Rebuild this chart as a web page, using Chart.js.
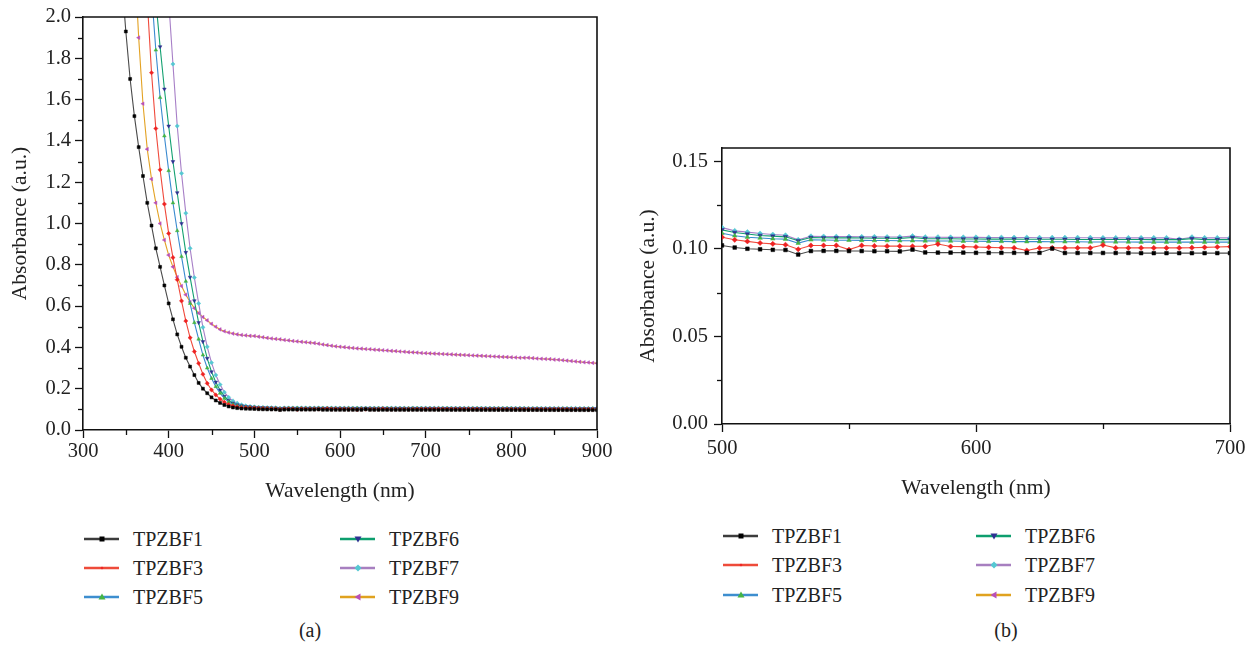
<!DOCTYPE html>
<html>
<head>
<meta charset="utf-8">
<title>Absorbance spectra</title>
<script src="https://cdn.jsdelivr.net/npm/chart.js@4.4.0/dist/chart.umd.min.js"></script>
<style>
  body { margin: 0; background: #fff; width: 1255px; height: 647px; overflow: hidden; position: relative;
         font-family: 'Liberation Serif', 'Times New Roman', serif; color: #222; }
  canvas { position: absolute; top: 0; }
  #chartA { left: 0; }
  #chartB { left: 630px; }
  .item { position: absolute; height: 24px; display: flex; align-items: center; white-space: nowrap; font-size: 20px; }
  .item svg { margin-right: 13px; flex: none; }
  .panel { position: absolute; top: 619px; font-size: 20px; transform: translateX(-50%); }
</style>
</head>
<body>
<canvas id="chartA" width="620" height="510"></canvas>
<canvas id="chartB" width="620" height="510"></canvas>
<div id="legendA"></div>
<div id="legendB"></div>
<div class="panel" style="left:310px">(a)</div>
<div class="panel" style="left:1006px">(b)</div>
<script>
// Wavelength grid (nm)
const waveEdge = [345, 350, 355, 360, 365, 370, 375, 380, 385, 390, 395, 400, 405, 410, 415, 420,
                  425, 430, 435, 440, 445, 450, 455, 460, 465, 470, 475, 480, 485, 490, 495];
const waveMid = [500, 505, 510, 515, 520, 525, 530, 535, 540, 545, 550, 555, 560, 565, 570, 575,
                 580, 585, 590, 595, 600, 605, 610, 615, 620, 625, 630, 635, 640, 645, 650, 655,
                 660, 665, 670, 675, 680, 685, 690, 695, 700];
const waveTail = [705, 710, 715, 720, 725, 730, 735, 740, 745, 750, 755, 760, 765, 770, 775, 780,
                  785, 790, 795, 800, 805, 810, 815, 820, 825, 830, 835, 840, 845, 850, 855, 860,
                  865, 870, 875, 880, 885, 890, 895, 900];

const seriesNames = ['TPZBF1', 'TPZBF3', 'TPZBF5', 'TPZBF6', 'TPZBF7', 'TPZBF9'];

// absorption edge, 345-495 nm
const f1Edge = [2.2, 1.93, 1.70, 1.52, 1.37, 1.23, 1.10, 0.99, 0.88, 0.79, 0.70, 0.613, 0.536, 0.463, 0.403, 0.35,
                0.307, 0.266, 0.228, 0.200, 0.178, 0.158, 0.143, 0.131, 0.121, 0.114, 0.109, 0.106, 0.104, 0.103, 0.1025];
const f3Edge = [null, null, null, null, null, null, 2.08, 1.73, 1.46, 1.26, 1.094, 0.952, 0.835, 0.728, 0.625, 0.528,
                0.447, 0.38, 0.323, 0.27, 0.226, 0.194, 0.170, 0.150, 0.135, 0.124, 0.117, 0.112, 0.109, 0.108, 0.107];
const f5Edge = [null, null, null, null, null, null, null, 2.12, 1.84, 1.61, 1.424, 1.256, 1.10, 0.965, 0.84, 0.72,
                0.613, 0.52, 0.44, 0.363, 0.30, 0.25, 0.21, 0.178, 0.153, 0.136, 0.124, 0.117, 0.113, 0.111, 0.110];
const f6Edge = [null, null, null, null, null, null, null, null, 2.08, 1.856, 1.651, 1.472, 1.30, 1.149, 1.00, 0.86,
                0.74, 0.626, 0.52, 0.428, 0.347, 0.282, 0.232, 0.193, 0.163, 0.143, 0.130, 0.122, 0.117, 0.114, 0.112];
const f7Edge = [null, null, null, null, null, null, null, null, null, null, null, 2.08, 1.772, 1.472, 1.243, 1.05,
                0.88, 0.738, 0.613, 0.497, 0.403, 0.326, 0.266, 0.22, 0.183, 0.158, 0.141, 0.130, 0.122, 0.117, 0.114];
const f9Edge = [null, null, null, 2.3, 1.90, 1.58, 1.36, 1.215, 1.10, 1.00, 0.92, 0.847, 0.79, 0.74, 0.697, 0.655,
                0.62, 0.59, 0.566, 0.547, 0.531, 0.514, 0.500, 0.487, 0.478, 0.472, 0.467, 0.463, 0.460, 0.458, 0.456];

// 500-700 nm (panel b)
const f1Mid = [0.1019, 0.1007, 0.1000, 0.0997, 0.0994, 0.0993, 0.0967, 0.0987, 0.0988, 0.0988,
               0.0987, 0.0987, 0.0986, 0.0986, 0.0985, 0.0995, 0.0979, 0.0978, 0.0978, 0.0978,
               0.0977, 0.0977, 0.0977, 0.0977, 0.0977, 0.0977, 0.1001, 0.0976, 0.0976, 0.0976,
               0.0976, 0.0976, 0.0976, 0.0975, 0.0975, 0.0975, 0.0975, 0.0975, 0.0975, 0.0975, 0.0975];
const f3Mid = [0.1066, 0.1051, 0.1042, 0.1033, 0.1028, 0.1023, 0.0997, 0.1019, 0.1019, 0.1019,
               0.0995, 0.1019, 0.1016, 0.1015, 0.1015, 0.1014, 0.1014, 0.1027, 0.1013, 0.1012,
               0.1010, 0.1008, 0.1006, 0.1005, 0.0990, 0.1005, 0.1005, 0.1005, 0.1005, 0.1005,
               0.1021, 0.1005, 0.1005, 0.1005, 0.1005, 0.1005, 0.1005, 0.1006, 0.1008, 0.1010, 0.1012];
const f5Mid = [0.1089, 0.1074, 0.1066, 0.1061, 0.1057, 0.1055, 0.1032, 0.1051, 0.1050, 0.1049,
               0.1049, 0.1048, 0.1047, 0.1047, 0.1046, 0.1046, 0.1045, 0.1044, 0.1044, 0.1043,
               0.1043, 0.1042, 0.1042, 0.1041, 0.1041, 0.1041, 0.1040, 0.1040, 0.1040, 0.1039,
               0.1039, 0.1039, 0.1039, 0.1038, 0.1038, 0.1038, 0.1038, 0.1038, 0.1038, 0.1038, 0.1038];
const f6Mid = [0.1108, 0.1093, 0.1084, 0.1076, 0.1072, 0.1068, 0.1046, 0.1064, 0.1063, 0.1062,
               0.1062, 0.1061, 0.1060, 0.1060, 0.1059, 0.1064, 0.1058, 0.1057, 0.1057, 0.1056,
               0.1056, 0.1055, 0.1055, 0.1055, 0.1054, 0.1054, 0.1054, 0.1054, 0.1053, 0.1053,
               0.1053, 0.1053, 0.1053, 0.1053, 0.1052, 0.1052, 0.1052, 0.1058, 0.1052, 0.1052, 0.1052];
const f7Mid = [0.1121, 0.1102, 0.1095, 0.1087, 0.1081, 0.1077, 0.1051, 0.1071, 0.1070, 0.1069,
               0.1069, 0.1068, 0.1068, 0.1067, 0.1067, 0.1072, 0.1066, 0.1066, 0.1065, 0.1065,
               0.1065, 0.1064, 0.1064, 0.1064, 0.1064, 0.1063, 0.1063, 0.1063, 0.1063, 0.1063,
               0.1062, 0.1062, 0.1062, 0.1062, 0.1062, 0.1062, 0.1054, 0.1066, 0.1062, 0.1062, 0.1062];
const f9Mid = [0.455, 0.452, 0.449, 0.446, 0.443, 0.441, 0.439, 0.436, 0.434, 0.431,
               0.429, 0.427, 0.425, 0.423, 0.421, 0.418, 0.414, 0.411, 0.408, 0.405,
               0.403, 0.401, 0.399, 0.397, 0.395, 0.394, 0.392, 0.391, 0.389, 0.388,
               0.386, 0.385, 0.383, 0.382, 0.380, 0.379, 0.377, 0.376, 0.375, 0.373, 0.372];

// 705-900 nm
const f1Tail = [0.0975, 0.0975, 0.0974, 0.0974, 0.0974, 0.0973, 0.0973, 0.0973, 0.0972, 0.0972,
                0.0972, 0.0971, 0.0971, 0.0971, 0.0970, 0.0970, 0.0970, 0.0969, 0.0969, 0.0969,
                0.0968, 0.0968, 0.0968, 0.0967, 0.0967, 0.0967, 0.0966, 0.0966, 0.0966, 0.0965,
                0.0965, 0.0965, 0.0964, 0.0964, 0.0964, 0.0963, 0.0963, 0.0963, 0.0962, 0.0962];
const f3Tail = [0.1012, 0.1012, 0.1011, 0.1011, 0.1010, 0.1010, 0.1009, 0.1009, 0.1008, 0.1008,
                0.1008, 0.1007, 0.1007, 0.1006, 0.1006, 0.1006, 0.1005, 0.1005, 0.1004, 0.1004,
                0.1004, 0.1003, 0.1003, 0.1002, 0.1002, 0.1002, 0.1001, 0.1001, 0.1000, 0.1000,
                0.1000, 0.0999, 0.0999, 0.0998, 0.0998, 0.0998, 0.0997, 0.0997, 0.0996, 0.0996];
const f5Tail = [0.1038, 0.1038, 0.1037, 0.1037, 0.1037, 0.1036, 0.1036, 0.1036, 0.1035, 0.1035,
                0.1035, 0.1034, 0.1034, 0.1034, 0.1033, 0.1033, 0.1033, 0.1032, 0.1032, 0.1032,
                0.1031, 0.1031, 0.1031, 0.1030, 0.1030, 0.1030, 0.1029, 0.1029, 0.1029, 0.1028,
                0.1028, 0.1028, 0.1027, 0.1027, 0.1027, 0.1026, 0.1026, 0.1026, 0.1025, 0.1025];
const f6Tail = [0.1052, 0.1052, 0.1051, 0.1051, 0.1051, 0.1050, 0.1050, 0.1050, 0.1049, 0.1049,
                0.1049, 0.1048, 0.1048, 0.1048, 0.1047, 0.1047, 0.1047, 0.1046, 0.1046, 0.1046,
                0.1045, 0.1045, 0.1045, 0.1044, 0.1044, 0.1044, 0.1043, 0.1043, 0.1043, 0.1042,
                0.1042, 0.1042, 0.1041, 0.1041, 0.1041, 0.1040, 0.1040, 0.1040, 0.1039, 0.1039];
const f7Tail = [0.1062, 0.1062, 0.1061, 0.1061, 0.1061, 0.1060, 0.1060, 0.1060, 0.1059, 0.1059,
                0.1059, 0.1058, 0.1058, 0.1058, 0.1057, 0.1057, 0.1057, 0.1056, 0.1056, 0.1056,
                0.1055, 0.1055, 0.1055, 0.1054, 0.1054, 0.1054, 0.1053, 0.1053, 0.1053, 0.1052,
                0.1052, 0.1052, 0.1051, 0.1051, 0.1051, 0.1050, 0.1050, 0.1050, 0.1049, 0.1049];
const f9Tail = [0.371, 0.370, 0.369, 0.368, 0.367, 0.366, 0.365, 0.364, 0.363, 0.362,
                0.361, 0.360, 0.359, 0.358, 0.357, 0.356, 0.355, 0.354, 0.353, 0.352,
                0.351, 0.350, 0.350, 0.350, 0.348, 0.346, 0.345, 0.344, 0.343, 0.341,
                0.340, 0.338, 0.336, 0.334, 0.332, 0.330, 0.328, 0.327, 0.325, 0.323];

const edges = [f1Edge, f3Edge, f5Edge, f6Edge, f7Edge, f9Edge];
const mids = [f1Mid, f3Mid, f5Mid, f6Mid, f7Mid, f9Mid];
const tails = [f1Tail, f3Tail, f5Tail, f6Tail, f7Tail, f9Tail];

// styles
const lineColors = ['#4a4a4a', '#f04a3c', '#3a8ad0', '#12a070', '#a77fc7', '#e3a224'];
const legendLineColors = ['#3c3c3c', '#ee4b3a', '#3d8ecf', '#0d9e6e', '#a77fc0', '#e0a21f'];
const markerColors = ['#000000', '#ee2222', '#44b444', '#2e3192', '#55c8d2', '#b84fb8'];
const markerStyles = ['rect', 'rectRot', 'triangle', 'triangle', 'rectRot', 'triangle'];
const markerRotations = [0, 0, 0, 180, 0, -90];

const SERIF = "'Liberation Serif', 'Times New Roman', serif";
const TICK_FONT = { family: SERIF, size: 20.5 };
const TITLE_FONT = { family: SERIF, size: 21.5 };
const INK = '#222';

const waveAll = [...waveEdge, ...waveMid, ...waveTail];

function points(xs, ys) {
  return xs.map((x, i) => ({ x: x, y: ys[i] }));
}

function makeDataset(i, data, radius) {
  return {
    label: seriesNames[i],
    data: data,
    borderColor: lineColors[i],
    borderWidth: 1.1,
    tension: 0,
    pointStyle: markerStyles[i],
    pointRotation: markerRotations[i],
    pointRadius: radius,
    pointBackgroundColor: markerColors[i],
    pointBorderColor: markerColors[i],
    pointBorderWidth: 0.5
  };
}

// top and right edges of the frame
const frameBox = {
  id: 'frameBox',
  afterDraw(chart) {
    const { ctx, chartArea: a } = chart;
    ctx.save();
    ctx.strokeStyle = '#111';
    ctx.lineWidth = 1.6;
    ctx.beginPath();
    ctx.moveTo(a.left, a.top);
    ctx.lineTo(a.right, a.top);
    ctx.lineTo(a.right, a.bottom);
    ctx.stroke();
    ctx.restore();
  }
};

// short ticks halfway between the labelled ones
const minorTicks = {
  id: 'minorTicks',
  afterDraw(chart) {
    const { ctx, chartArea: a } = chart;
    const xs = chart.scales.x, ys = chart.scales.y;
    ctx.save();
    ctx.strokeStyle = '#111';
    ctx.lineWidth = 1.3;
    for (let i = 0; i < xs.ticks.length - 1; i++) {
      const px = Math.round(xs.getPixelForValue((xs.ticks[i].value + xs.ticks[i + 1].value) / 2)) + 0.5;
      ctx.beginPath(); ctx.moveTo(px, a.bottom); ctx.lineTo(px, a.bottom + 5); ctx.stroke();
    }
    for (let i = 0; i < ys.ticks.length - 1; i++) {
      const py = Math.round(ys.getPixelForValue((ys.ticks[i].value + ys.ticks[i + 1].value) / 2)) + 0.5;
      ctx.beginPath(); ctx.moveTo(a.left, py); ctx.lineTo(a.left - 5, py); ctx.stroke();
    }
    ctx.restore();
  }
};

function makeOptions(cfg) {
  return {
    responsive: false,
    animation: false,
    devicePixelRatio: 1,
    layout: { padding: { top: cfg.padTop, right: cfg.padRight, left: 0, bottom: 0 } },
    plugins: { legend: { display: false }, tooltip: { enabled: false } },
    scales: {
      x: {
        type: 'linear', min: cfg.xMin, max: cfg.xMax,
        ticks: { stepSize: cfg.xStep, includeBounds: false, autoSkip: false, maxRotation: 0,
                 color: INK, font: TICK_FONT, padding: cfg.xPad },
        grid: { drawOnChartArea: false, tickLength: 8, color: '#111', tickWidth: 1.3 },
        border: { display: true, color: '#111', width: 1.6 },
        title: { display: true, text: 'Wavelength (nm)', color: INK, font: TITLE_FONT,
                 padding: { top: 0, bottom: cfg.xTitlePad } },
        afterFit: s => { s.height = cfg.xHeight; }
      },
      y: {
        min: cfg.yMin, max: cfg.yMax,
        ticks: { stepSize: cfg.yStep, includeBounds: false, color: INK, font: TICK_FONT, padding: cfg.yPad,
                 callback: v => Number(v).toFixed(cfg.yDigits) },
        grid: { drawOnChartArea: false, tickLength: 8, color: '#111', tickWidth: 1.3 },
        border: { display: true, color: '#111', width: 1.6 },
        title: { display: true, text: 'Absorbance (a.u.)', color: INK, font: TITLE_FONT,
                 padding: { top: cfg.yTitlePad, bottom: 0 } },
        afterFit: s => { s.width = cfg.yWidth; }
      }
    }
  };
}

new Chart(document.getElementById('chartA'), {
  type: 'line',
  data: {
    datasets: seriesNames.map((n, i) =>
      makeDataset(i, points(waveAll, [...edges[i], ...mids[i], ...tails[i]]), 2.1))
  },
  options: makeOptions({ xMin: 300, xMax: 900, xStep: 100, yMin: 0, yMax: 2.0, yStep: 0.2, yDigits: 1,
                         padTop: 17, padRight: 23, yWidth: 83, xHeight: 80, xPad: 1, yPad: 4,
                         xTitlePad: 6, yTitlePad: 7 }),
  plugins: [frameBox, minorTicks]
});

new Chart(document.getElementById('chartB'), {
  type: 'line',
  data: {
    datasets: seriesNames.map((n, i) => makeDataset(i, points(waveMid, mids[i]), 2.6))
  },
  options: makeOptions({ xMin: 500, xMax: 700, xStep: 100, yMin: 0, yMax: 0.1575, yStep: 0.05, yDigits: 2,
                         padTop: 148, padRight: 20, yWidth: 92, xHeight: 86, xPad: 4, yPad: 6,
                         xTitlePad: 9, yTitlePad: 5 }),
  plugins: [frameBox, minorTicks]
});

// legends
const markerSvg = [
  '<rect x="15.5" y="3.5" width="5" height="5" fill="#000"/>',
  '<path d="M18 4.5 L19.5 6 L18 7.5 L16.5 6Z" fill="#ee2222"/>',
  '<path d="M18 2.5 L21.5 8.5 L14.5 8.5Z" fill="#44b444"/>',
  '<path d="M18 9.5 L21.5 3.5 L14.5 3.5Z" fill="#2e3192"/>',
  '<path d="M18 2.5 L21.5 6 L18 9.5 L14.5 6Z" fill="#55c8d2"/>',
  '<path d="M14.5 6 L20.5 2.5 L20.5 9.5Z" fill="#b84fb8"/>'
];

function buildLegend(id, cols, rows) {
  const box = document.getElementById(id);
  seriesNames.forEach((name, i) => {
    const col = Math.floor(i / 3), row = i % 3;
    const el = document.createElement('div');
    el.className = 'item';
    el.style.left = cols[col] + 'px';
    el.style.top = (rows[row] - 12) + 'px';
    el.innerHTML = '<svg width="36" height="12"><line x1="0" y1="6" x2="35" y2="6" stroke="' +
      legendLineColors[i] + '" stroke-width="2.6"/>' + markerSvg[i] + '</svg><span>' + name + '</span>';
    box.appendChild(el);
  });
}

buildLegend('legendA', [84, 340], [539, 568, 597]);
buildLegend('legendB', [723, 976], [536, 565, 595]);
</script>
</body>
</html>
